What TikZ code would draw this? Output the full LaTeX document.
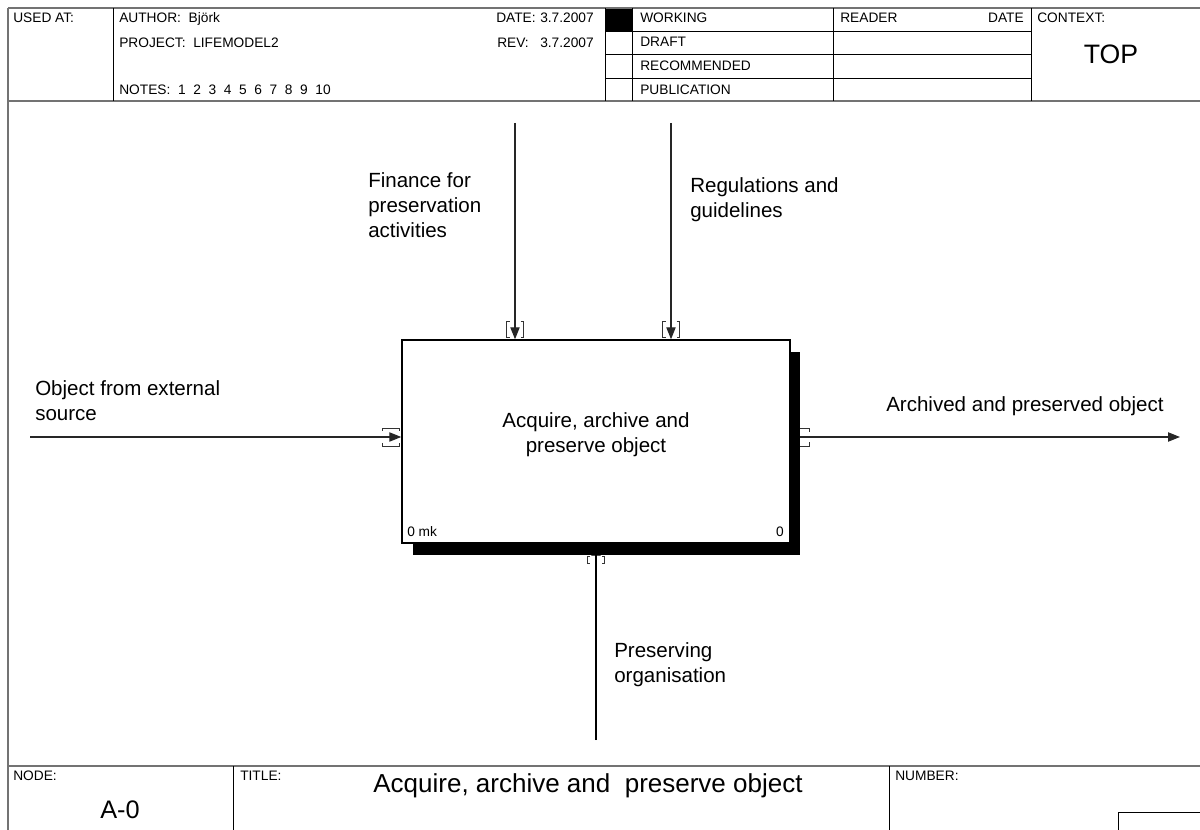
\documentclass[tikz,border=0pt]{standalone}
\usepackage{fontspec}
\setmainfont{Liberation Sans}
\usetikzlibrary{arrows.meta}

\tikzset{
  frameline/.style={draw=black!55, line width=1.2pt},
  ruleline/.style={draw=black, line width=0.75pt},
  flow/.style={draw=black!85, line width=0.8pt, -{Triangle[length=9pt,width=7pt]}},
  tunnel/.style={draw=black!80, line width=0.7pt},
  hdr/.style={font=\fontsize{10.3}{12}\selectfont, inner sep=0pt},
  lbl/.style={font=\fontsize{15.4}{18.75}\selectfont, inner sep=0pt, align=left, anchor=north west},
  actbox/.style={draw=black, line width=1.1pt, fill=white, minimum width=291pt, minimum height=152.25pt, inner sep=0pt},
  actshadow/.style={fill=black, minimum width=290.25pt, minimum height=152.25pt, inner sep=0pt},
}

\begin{document}
\begin{tikzpicture}[x=0.75pt, y=-0.75pt]
\useasboundingbox (0,0) rectangle (1200,830);

% ---------- header frame ----------
\fill[black] (605,8) rectangle (632,32);
\draw[frameline] (8,8) -- (1200,8);
\draw[frameline] (8,101) -- (1200,101);
\draw[frameline] (8,8) -- (8,830);
\draw[ruleline] (113,8) -- (113,101);
\draw[ruleline] (605,8) -- (605,101);
\draw[ruleline] (632,8) -- (632,101);
\draw[ruleline] (833,8) -- (833,101);
\draw[ruleline] (1031,8) -- (1031,101);
\draw[ruleline] (605,32) -- (1031,32);
\draw[ruleline] (605,55) -- (1031,55);
\draw[ruleline] (605,79) -- (1031,79);

\node[hdr, anchor=base west] (usedat) at (13,23) {USED AT:};
\node[hdr, anchor=base west] (author) at (119,23) {AUTHOR:\ \ Björk};
\node[hdr, anchor=base west] (project) at (119,48) {PROJECT:\ \ LIFEMODEL2};
\node[hdr, anchor=base west] (notes) at (119,95) {NOTES:\ \ 1\ \ 2\ \ 3\ \ 4\ \ 5\ \ 6\ \ 7\ \ 8\ \ 9\ \ 10};
\node[hdr, anchor=base west] (datelbl) at (496,23) {DATE:};
\node[hdr, anchor=base east] (dateval) at (594,23) {3.7.2007};
\node[hdr, anchor=base west] (revlbl) at (497,48) {REV:};
\node[hdr, anchor=base east] (revval) at (594,48) {3.7.2007};
\node[hdr, anchor=base west] (working) at (640,23) {WORKING};
\node[hdr, anchor=base west] (draft) at (640,47) {DRAFT};
\node[hdr, anchor=base west] (recommended) at (640,71) {RECOMMENDED};
\node[hdr, anchor=base west] (publication) at (640,95) {PUBLICATION};
\node[hdr, anchor=base west] (reader) at (840,23) {READER};
\node[hdr, anchor=base east] (readerdate) at (1024,23) {DATE};
\node[hdr, anchor=base west] (context) at (1037,23) {CONTEXT:};
\node[inner sep=0pt, anchor=base, font=\fontsize{20}{24}\selectfont] (top) at (1111,64) {TOP};

% ---------- footer frame ----------
\draw[frameline] (8,766) -- (1200,766);
\draw[ruleline] (233,766) -- (233,830);
\draw[ruleline] (889,766) -- (889,830);
\draw[ruleline] (1118,830) -- (1118,812) -- (1200,812);

\node[hdr, anchor=base west] (nodelbl) at (13,780) {NODE:};
\node[inner sep=0pt, anchor=base, font=\fontsize{19}{22}\selectfont] (nodeno) at (120,818) {A-0};
\node[hdr, anchor=base west] (titlelbl) at (240,780) {TITLE:};
\node[inner sep=0pt, anchor=base, font=\fontsize{19.5}{23}\selectfont] (title) at (588,792) {Acquire, archive and\ \ preserve object};
\node[hdr, anchor=base west] (numberlbl) at (895,780) {NUMBER:};

% ---------- activity box ----------
\node[actshadow] (shadow) at (606.5,453.5) {};
\node[actbox] (box) at (596,441.5) {};
% mechanism arrow: its head lies on the shadow, black on black
\coordinate (mechsrc) at (596,740);
\draw[flow, draw=black, fill=black] (mechsrc) -- (mechsrc |- box.south);
\node[inner sep=0pt, anchor=north, align=center, font=\fontsize{15.4}{18.75}\selectfont] (boxtext) at (596,412) {Acquire, archive and\\preserve object};
\node[hdr, anchor=base west] (boxnode) at (407,537) {0 mk};
\node[hdr, anchor=base east] (boxnum) at (784,537) {0};

% ---------- arrow ends ----------
\coordinate (finsrc) at (515,123);
\coordinate (regsrc) at (671,123);
\coordinate (insrc) at (30,437);
\coordinate (outdst) at (1180,437);

% controls
\draw[flow] (finsrc) -- (finsrc |- box.north);
\draw[flow] (regsrc) -- (regsrc |- box.north);
% input
\draw[flow] (insrc) -- (insrc -| box.west);
% output
\draw[flow] (outdst -| shadow.east) -- (outdst);

% tunnel brackets on controls
\foreach \cx in {515,671}{
  \draw[tunnel] (\cx-5.5,321) -- (\cx-8.5,321) -- (\cx-8.5,337) -- (\cx-5.5,337);
  \draw[tunnel] (\cx+5.5,321) -- (\cx+8.5,321) -- (\cx+8.5,337) -- (\cx+5.5,337);
}
% tunnel brackets on input
\draw[tunnel] (382,431) -- (382,428) -- (399,428) -- (399,431);
\draw[tunnel] (382,443) -- (382,446) -- (399,446) -- (399,443);
% tunnel brackets on output
\draw[tunnel] (800,428) -- (809,428) -- (809,432);
\draw[tunnel] (800,446) -- (809,446) -- (809,442);
% tunnel brackets on mechanism
\draw[tunnel] (590,556) -- (587.5,556) -- (587.5,563) -- (590,563);
\draw[tunnel] (602,556) -- (604.5,556) -- (604.5,563) -- (602,563);

% ---------- arrow labels ----------
\node[lbl] (finlbl) at (368,172) {Finance for\\preservation\\activities};
\node[lbl] (reglbl) at (690,177) {Regulations and\\guidelines};
\node[lbl] (inlbl) at (35,380) {Object from external\\source};
\node[lbl, anchor=base west] (outlbl) at (886,412) {Archived and preserved object};
\node[lbl] (mechlbl) at (614,642) {Preserving\\organisation};
\end{tikzpicture}
\end{document}
